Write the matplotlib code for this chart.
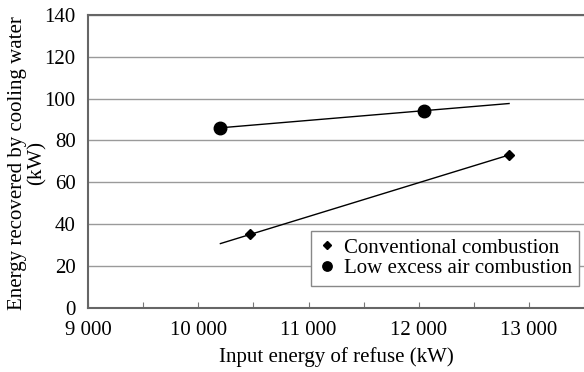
import numpy as np
import matplotlib.pyplot as plt
from matplotlib.ticker import MultipleLocator

# data
conv_x = [10470, 12820]
conv_y = [35, 73]
low_x = [10200, 12050]
low_y = [86, 94.2]

x_ticks = [9000, 10000, 11000, 12000, 13000]
x_labels = ['9 000', '10 000', '11 000', '12 000', '13 000']
y_ticks = [0, 20, 40, 60, 80, 100, 120, 140]

plt.rcParams['font.family'] = ['Liberation Serif', 'DejaVu Serif']
plt.rcParams['font.size'] = 15

fig = plt.figure(figsize=(5.84, 3.72), dpi=100)
ax = fig.add_axes([0.151, 0.173, 0.849, 0.787])

# trend lines over the range of all inputs
all_x = conv_x + low_x
tx = np.array([min(all_x), max(all_x)])
for xs, ys in [(conv_x, conv_y), (low_x, low_y)]:
    k, b = np.polyfit(xs, ys, 1)
    ax.plot(tx, k * tx + b, color='black', lw=1.0, zorder=3)

ax.plot(conv_x, conv_y, ls='none', marker='D', ms=5.5, color='black',
        label='Conventional combustion', zorder=4)
ax.plot(low_x, low_y, ls='none', marker='o', ms=9, color='black',
        label='Low excess air combustion', zorder=4)

ax.set_xlim(9000, 13500)
ax.set_ylim(0, 140)
ax.set_xticks(x_ticks, labels=x_labels)
ax.set_yticks(y_ticks)
ax.xaxis.set_minor_locator(MultipleLocator(500))
ax.tick_params(axis='x', which='both', direction='in', length=4, width=0.8,
               color='#777777', pad=9.5)
ax.tick_params(axis='y', length=0, pad=9)

ax.grid(axis='y', color='#9a9a9a', lw=1.0)
ax.set_axisbelow(True)
for s in ['left', 'bottom', 'top']:
    ax.spines[s].set_color('#666666')
    ax.spines[s].set_linewidth(1.5)
ax.spines['right'].set_visible(False)

ax.set_xlabel('Input energy of refuse (kW)', labelpad=5)
fig.text(0.047, 0.563, 'Energy recovered by cooling water\n(kW)', rotation=90,
         ha='center', va='center', multialignment='center', linespacing=0.98,
         fontsize=15)

leg = ax.legend(loc='lower right', bbox_to_anchor=(0.99, 0.075), borderaxespad=0,
                fancybox=False, framealpha=1, edgecolor='#888888',
                handlelength=0.8, handletextpad=0.4, borderpad=0.35,
                labelspacing=0.05, markerscale=0.75, fontsize=15)
leg.get_frame().set_linewidth(1.0)

fig.savefig('out.png', dpi=100)
